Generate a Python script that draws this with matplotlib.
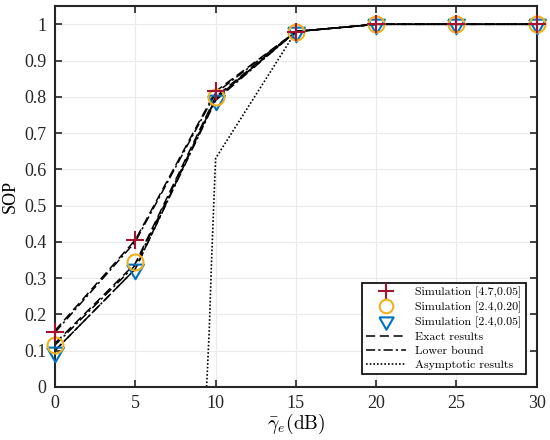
import numpy as np
import matplotlib.pyplot as plt

plt.rcParams['font.family'] = ['Liberation Serif', 'DejaVu Serif']
plt.rcParams['mathtext.fontset'] = 'cm'

snr = [0, 5, 10, 15, 20, 25, 30]

sim_47_005 = [0.15, 0.405, 0.815, 0.98, 1.0, 1.0, 1.0]
sim_24_020 = [0.115, 0.345, 0.80, 0.98, 1.0, 1.0, 1.0]
sim_24_005 = [0.095, 0.325, 0.79, 0.98, 1.0, 1.0, 1.0]

exact_47_005 = [0.155, 0.405, 0.815, 0.98, 1.0, 1.0, 1.0]
exact_24_020 = [0.12, 0.34, 0.80, 0.98, 1.0, 1.0, 1.0]
exact_24_005 = [0.10, 0.325, 0.795, 0.98, 1.0, 1.0, 1.0]

lower_47_005 = [0.15, 0.40, 0.81, 0.98, 1.0, 1.0, 1.0]
lower_24_020 = [0.115, 0.335, 0.795, 0.98, 1.0, 1.0, 1.0]
lower_24_005 = [0.10, 0.325, 0.79, 0.98, 1.0, 1.0, 1.0]

asym_snr = [9.44, 9.6, 9.75, 9.9, 10, 15, 20, 25, 30]
asym = [0.0, 0.15, 0.35, 0.52, 0.63, 0.98, 1.0, 1.0, 1.0]

red = '#A2142F'
yellow = '#EDB120'
blue = '#0072BD'

dash = (0, (6, 3))
dashdot = (0, (6, 2, 1.5, 2))
dot = (0, (1, 1.2))

# downward triangle centred on its centroid, like MATLAB draws it
tri_down = [(-1, 0.577), (1, 0.577), (0, -1.155), (-1, 0.577)]

fig = plt.figure(figsize=(5.5, 4.4), dpi=100)
ax = fig.add_axes([0.1, 0.121, 0.876, 0.865])

for e in [exact_47_005, exact_24_020, exact_24_005]:
    ax.plot(snr, e, color='k', linestyle=dash, linewidth=1.1)
for lb in [lower_47_005, lower_24_020, lower_24_005]:
    ax.plot(snr, lb, color='k', linestyle=dashdot, linewidth=1.1)
ax.plot(asym_snr, asym, color='k', linestyle=dot, linewidth=1.2)

h1, = ax.plot(snr, sim_47_005, linestyle='none', marker='+', markersize=13,
              markeredgewidth=1.5, color=red, clip_on=False, zorder=5)
h2, = ax.plot(snr, sim_24_020, linestyle='none', marker='o', markersize=11.5,
              markerfacecolor='none', markeredgewidth=1.5, color=yellow,
              clip_on=False, zorder=4)
h3, = ax.plot(snr, sim_24_005, linestyle='none', marker=tri_down, markersize=14,
              markerfacecolor='none', markeredgewidth=1.5, color=blue,
              clip_on=False, zorder=3)
h4, = ax.plot([], [], color='k', linestyle=dash, linewidth=1.1)
h5, = ax.plot([], [], color='k', linestyle=dashdot, linewidth=1.1)
h6, = ax.plot([], [], color='k', linestyle=dot, linewidth=1.2)

ax.set_xlim(0, 30)
ax.set_ylim(0, 1.05)
ax.set_xticks(np.arange(0, 31, 5))
ax.set_yticks(np.arange(0, 1.01, 0.1))
ax.set_yticklabels(['0', '0.1', '0.2', '0.3', '0.4', '0.5', '0.6', '0.7', '0.8', '0.9', '1'])
ax.grid(True, color='#ebebeb', linewidth=0.8)
ax.set_axisbelow(True)
ax.tick_params(direction='in', top=True, right=True, length=5, width=1.2,
               labelsize=13, pad=6, colors='#262626')
for s in ax.spines.values():
    s.set_linewidth(1.5)
    s.set_color('#262626')

ax.set_xlabel(r'$\bar{\gamma}_e\mathrm{(dB)}$', fontsize=14, labelpad=0)
ax.set_ylabel('SOP', fontsize=13, labelpad=4)

leg = ax.legend([h1, h2, h3, h4, h5, h6],
                ['Simulation [4.7,0.05]', 'Simulation [2.4,0.20]', 'Simulation [2.4,0.05]',
                 'Exact results', 'Lower bound', 'Asymptotic results'],
                loc='lower right', bbox_to_anchor=(0.977, 0.033),
                prop={'family': 'cmr10', 'size': 8.6}, fancybox=False,
                edgecolor='k', framealpha=1, borderpad=0.35, labelspacing=0.3,
                handlelength=3.3, handletextpad=0.8, markerscale=0.85,
                borderaxespad=0)
leg.get_frame().set_linewidth(1.2)

fig.savefig('out.png', dpi=100)
